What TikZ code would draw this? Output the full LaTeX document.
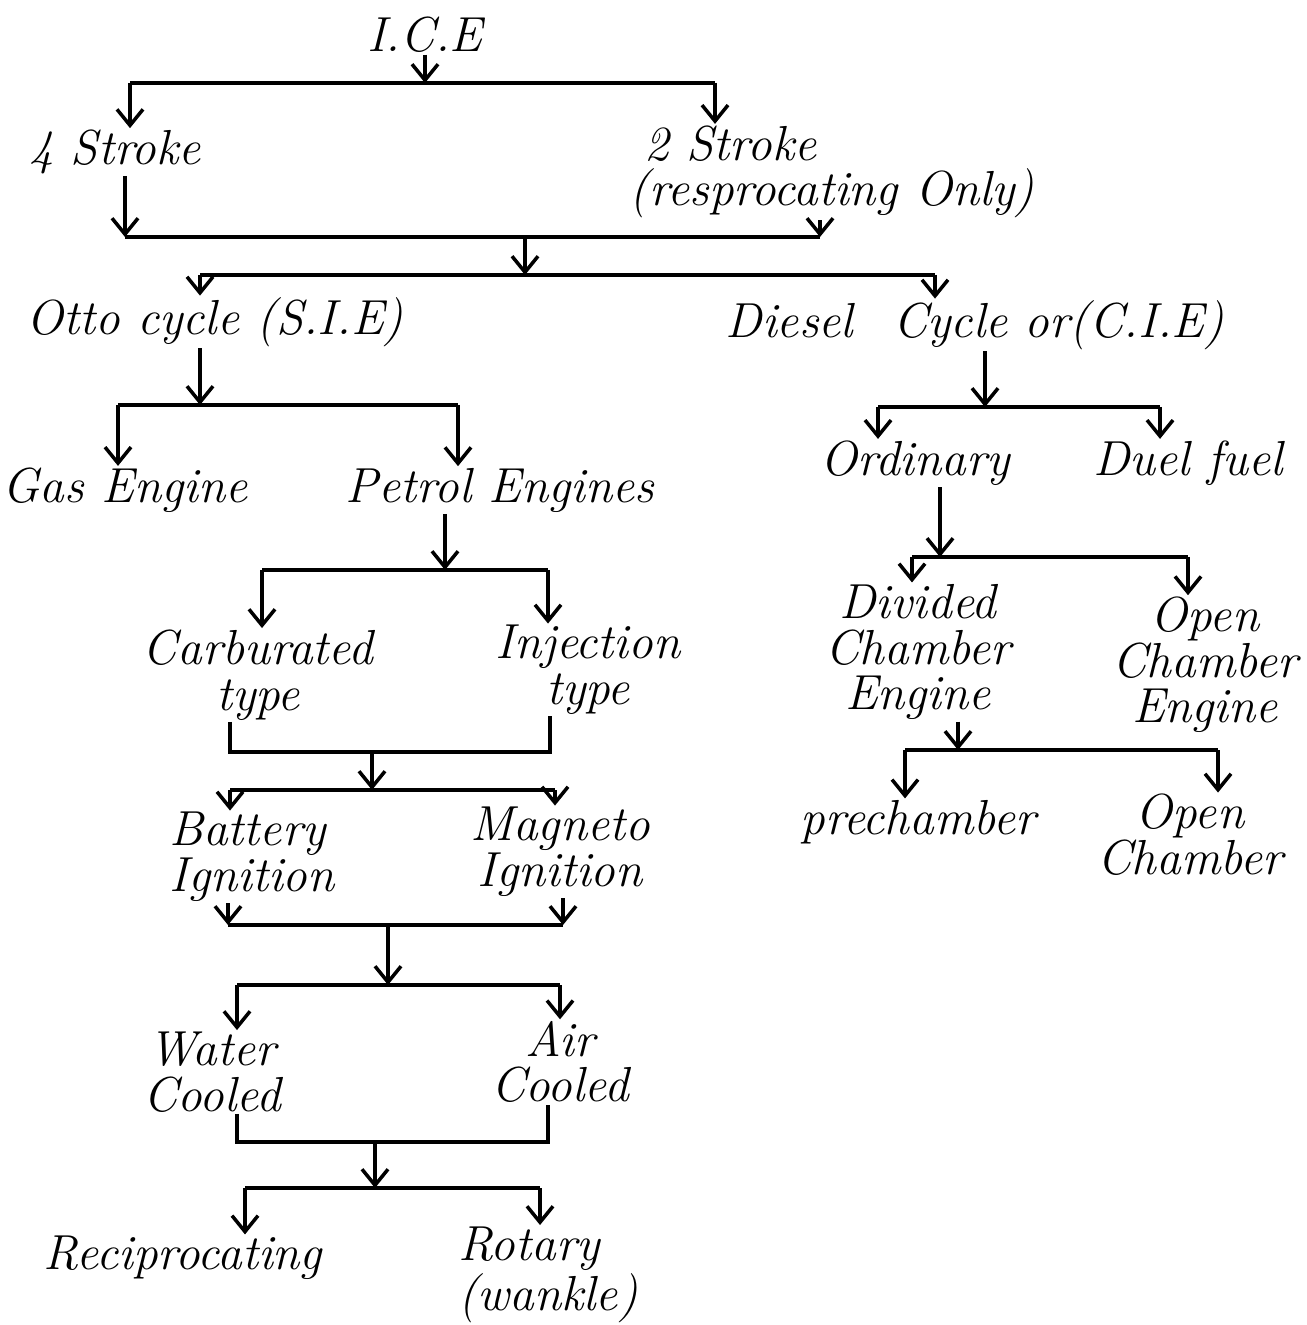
\documentclass[tikz,border=0pt]{standalone}
\usetikzlibrary{arrows.meta}
\begin{document}
\begin{tikzpicture}[x=0.1mm,y=-0.1mm,line width=1pt,>={Straight Barb[length=1.6mm,width=2.6mm]},
	lbl/.style={font=\fontsize{14}{13}\selectfont\itshape,align=center,inner sep=0pt}]
	\useasboundingbox (0,0) rectangle (1306,1325);
	\node[lbl] (ice) at (425,35) {I.C.E};
	\node[lbl] (four) at (115,152) {4 Stroke};
	\node[lbl,anchor=west,align=left] (two) at (628,172) {\hspace*{1.5mm}2 Stroke\\(resprocating Only)};
	\node[lbl] (otto) at (215,322) {Otto cycle (S.I.E)};
	\node[lbl] (diesel) at (975,325) {Diesel\hspace{4mm}Cycle or(C.I.E)};
	\node[lbl] (gas) at (125,490) {Gas Engine};
	\node[lbl] (petrol) at (500,490) {Petrol Engines};
	\node[lbl] (ordinary) at (915,463) {Ordinary};
	\node[lbl] (duel) at (1188,463) {Duel fuel};
	\node[lbl] (carb) at (258,675) {Carburated\\type};
	\node[lbl] (inj) at (588,670) {Injection\\type};
	\node[lbl] (divided) at (918,652) {Divided\\Chamber\\Engine};
	\node[lbl] (openeng) at (1205,665) {Open\\Chamber\\Engine};
	\node[lbl] (prech) at (918,822) {prechamber};
	\node[lbl] (opench) at (1190,835) {Open\\Chamber};
	\node[lbl,align=left] (battery) at (252,857) {Battery\\Ignition};
	\node[lbl] (magneto) at (560,852) {Magneto\\Ignition};
	\node[lbl] (water) at (212,1072) {Water\\Cooled};
	\node[lbl] (air) at (560,1062) {Air\\Cooled};
	\node[lbl] (recip) at (183,1258) {Reciprocating};
	\node[lbl,align=left] (rotary) at (548,1275) {Rotary\\(wankle)};
	\coordinate (aL) at (130,83); \coordinate (aR) at (715,83); \coordinate (aM) at (425,83);
	\coordinate (bL) at (125,237); \coordinate (bR) at (820,237); \coordinate (bM) at (525,237);
	\coordinate (cL) at (200,275); \coordinate (cR) at (935,275); \coordinate (cM) at (525,275);
	\coordinate (dL) at (118,405); \coordinate (dR) at (458,405); \coordinate (dM) at (200,405);
	\coordinate (eL) at (878,407); \coordinate (eR) at (1160,407); \coordinate (eM) at (985,407);
	\coordinate (fL) at (262,570); \coordinate (fR) at (548,570); \coordinate (fM) at (445,570);
	\coordinate (gL) at (912,557); \coordinate (gR) at (1188,557); \coordinate (gM) at (940,557);
	\coordinate (hL) at (230,752); \coordinate (hR) at (550,752); \coordinate (hM) at (372,752);
	\coordinate (iL) at (230,790); \coordinate (iR) at (555,790); \coordinate (iM) at (372,790);
	\coordinate (jL) at (228,925); \coordinate (jR) at (563,925); \coordinate (jM) at (388,925);
	\coordinate (kL) at (237,985); \coordinate (kR) at (560,985); \coordinate (kM) at (388,985);
	\coordinate (lL) at (237,1142); \coordinate (lR) at (548,1142); \coordinate (lM) at (375,1142);
	\coordinate (mL) at (245,1188); \coordinate (mR) at (540,1188); \coordinate (mM) at (375,1188);
	\coordinate (nL) at (905,750); \coordinate (nR) at (1218,750); \coordinate (nM) at (958,750);
	\draw (aL)--(aR) (bL)--(bR) (cL)--(cR) (dL)--(dR) (eL)--(eR) (fL)--(fR) (gL)--(gR);
	\draw (iL)--(iR) (jL)--(jR) (kL)--(kR) (mL)--(mR) (nL)--(nR);
	\draw[->] (ice.south)--(aM);
	\draw[->] (aL)--(aL |- four.north);
	\draw[->] (aR)--(aR |- two.north);
	\draw[->] (bL |- four.south)--(bL);
	\draw[->] (bR |- two.south)--(bR);
	\draw[->] (bM)--(cM);
	\draw[->] (cL)--(cL |- otto.north);
	\draw[->] (cR)--(cR |- diesel.north);
	\draw[->] (dM |- otto.south)--(dM);
	\draw[->] (dL)--(dL |- gas.north);
	\draw[->] (dR)--(dR |- petrol.north);
	\draw[->] (eM |- diesel.south)--(eM);
	\draw[->] (eL)--(eL |- ordinary.north);
	\draw[->] (eR)--(eR |- duel.north);
	\draw[->] (fM |- petrol.south)--(fM);
	\draw[->] (fL)--(fL |- carb.north);
	\draw[->] (fR)--(fR |- inj.north);
	\draw[->] (gM |- ordinary.south)--(gM);
	\draw[->] (gL)--(gL |- divided.north);
	\draw[->] (gR)--(gR |- openeng.north);
	\draw (hL |- carb.south)--(hL)--(hR)--(hR |- inj.south);
	\draw[->] (hM)--(iM);
	\draw[->] (iL)--(iL |- battery.north);
	\draw[->] (iR)--(iR |- magneto.north);
	\draw[->] (jL |- battery.south)--(jL);
	\draw[->] (jR |- magneto.south)--(jR);
	\draw[->] (jM)--(kM);
	\draw[->] (kL)--(kL |- water.north);
	\draw[->] (kR)--(kR |- air.north);
	\draw (lL |- water.south)--(lL)--(lR)--(lR |- air.south);
	\draw[->] (lM)--(mM);
	\draw[->] (mL)--(mL |- recip.north);
	\draw[->] (mR)--(mR |- rotary.north);
	\draw[->] (nM |- divided.south)--(nM);
	\draw[->] (nL)--(nL |- prech.north);
	\draw[->] (nR)--(nR |- opench.north);
\end{tikzpicture}
\end{document}
